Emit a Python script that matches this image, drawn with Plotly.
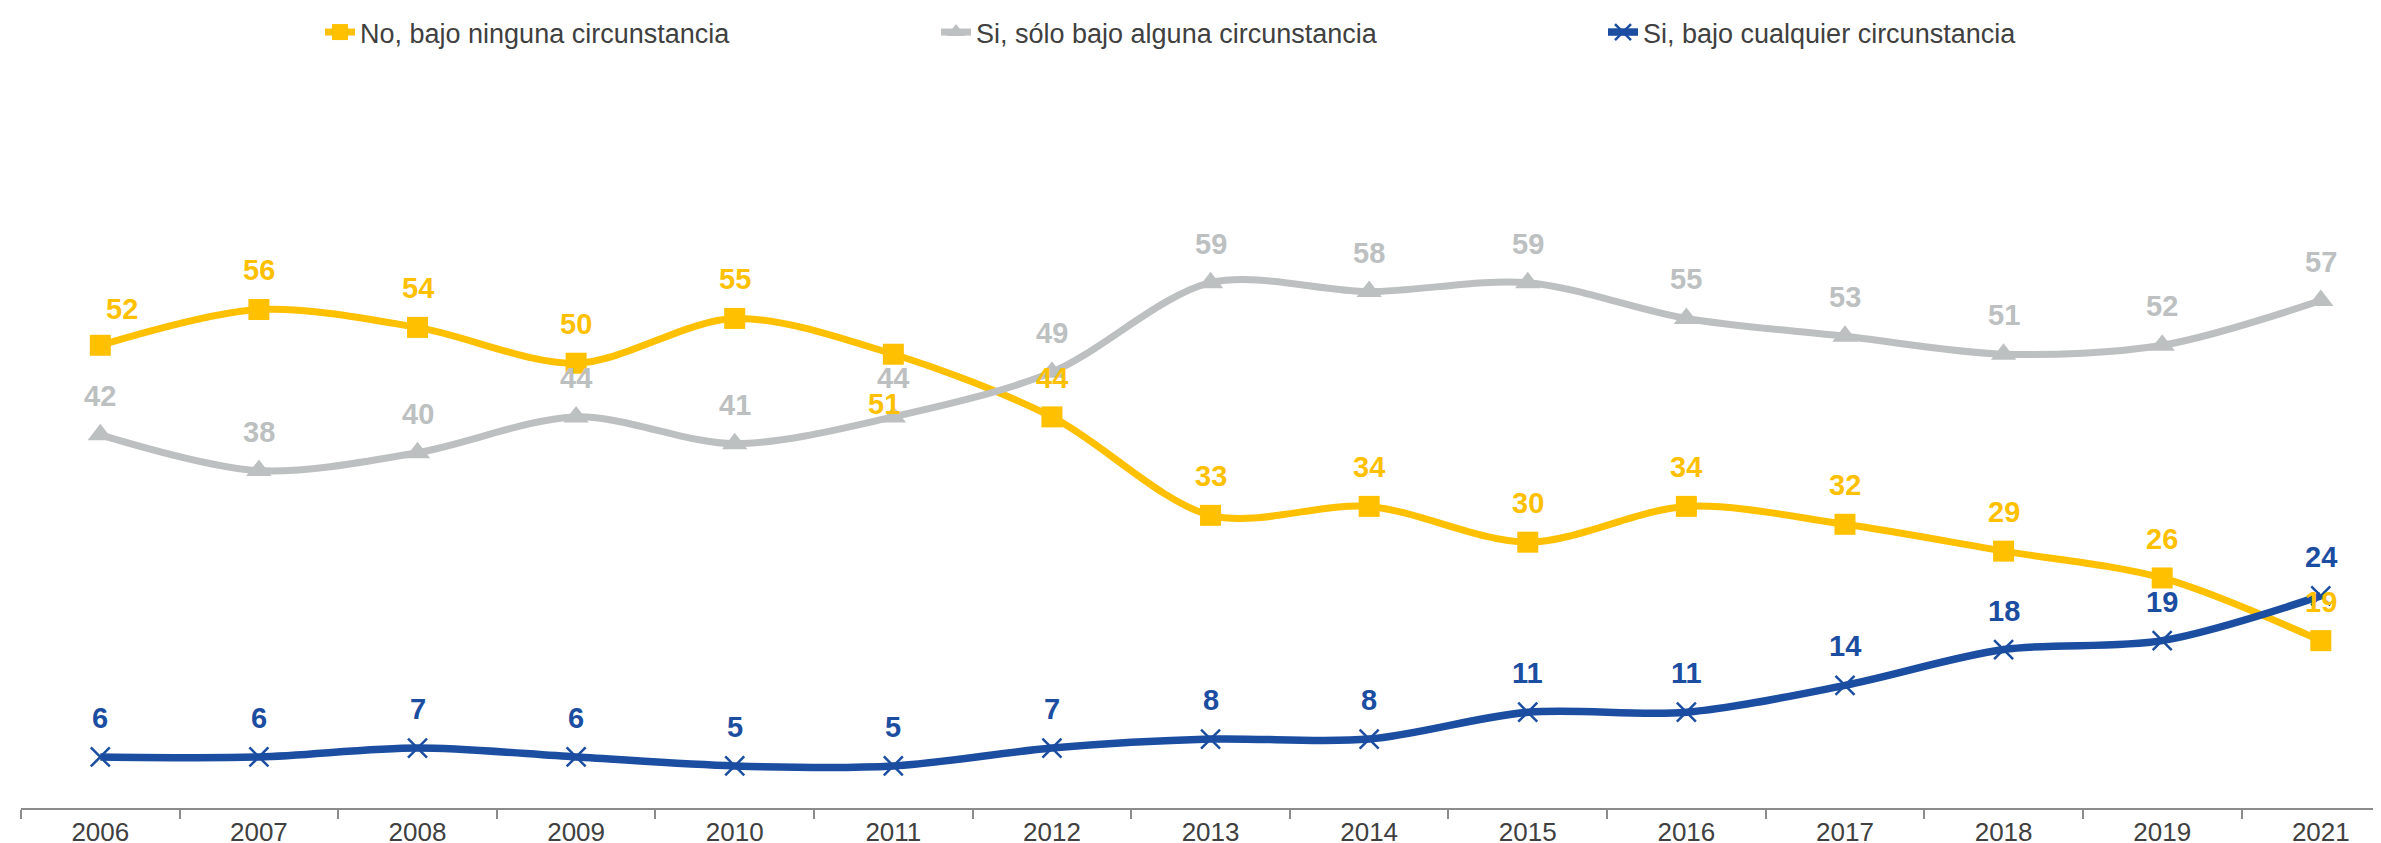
import plotly.graph_objects as go

years = ["2006", "2007", "2008", "2009", "2010", "2011", "2012", "2013",
         "2014", "2015", "2016", "2017", "2018", "2019", "2021"]
no_ninguna = [52, 56, 54, 50, 55, 51, 44, 33, 34, 30, 34, 32, 29, 26, 19]
si_alguna = [42, 38, 40, 44, 41, 44, 49, 59, 58, 59, 55, 53, 51, 52, 57]
si_cualquier = [6, 6, 7, 6, 5, 5, 7, 8, 8, 11, 11, 14, 18, 19, 24]

names = ["No, bajo ninguna circunstancia",
         "Si, sólo bajo alguna circunstancia",
         "Si, bajo cualquier circunstancia"]

YELLOW = "#FFC000"
GREY = "#BCC0C0"
BLUE = "#1B4DA1"
FONT = "Liberation Sans, Arial, sans-serif"

series = [
    dict(y=no_ninguna, name=names[0], color=YELLOW,
         marker=dict(symbol="square", size=21, color=YELLOW), lw=7, legend="legend"),
    dict(y=si_alguna, name=names[1], color=GREY,
         marker=dict(symbol="triangle-up", size=22, color=GREY), lw=7, legend="legend2"),
    dict(y=si_cualquier, name=names[2], color=BLUE,
         marker=dict(symbol="x-thin", size=19, color=BLUE,
                     line=dict(color=BLUE, width=2.5)), lw=7.5, legend="legend3"),
]

fig = go.Figure()
for s in series:
    fig.add_trace(go.Scatter(
        x=years, y=s["y"], name=s["name"], mode="lines+markers",
        line=dict(color=s["color"], width=s["lw"], shape="spline", smoothing=0.9),
        marker=s["marker"], legend=s["legend"], cliponaxis=False,
    ))

# label offsets (style only): default above the point
special = {(0, 0): (22, 36), (0, 5): (-9, -50)}
annotations = []
for si, s in enumerate(series):
    for i, (yr, v) in enumerate(zip(years, s["y"])):
        xs, ys = special.get((si, i), (0, 39))
        annotations.append(dict(
            x=i, y=v, xref="x", yref="y", text="<b>%d</b>" % v, showarrow=False,
            xanchor="center", yanchor="middle", xshift=xs, yshift=ys,
            font=dict(family=FONT, size=29, color=s["color"]),
        ))

W, H = 2381, 843
L, R, T, B = 13, 0, 80, 43
PW, PH = W - L - R, H - T - B


def lx(px):
    return (px - L) / PW


LEG_Y = 1 + (T - 20) / PH
legend_common = dict(orientation="h", yanchor="middle", xanchor="left",
                     font=dict(family=FONT, size=27, color="#404040"),
                     bgcolor="rgba(0,0,0,0)", borderwidth=0)
fig.update_layout(
    width=W, height=H,
    margin=dict(l=L, r=R, t=T, b=B),
    plot_bgcolor="white", paper_bgcolor="white",
    font=dict(family=FONT, color="#404040"),
    showlegend=True,
    annotations=annotations,
    legend=dict(x=lx(352 - 40), y=LEG_Y, **legend_common),
    legend2=dict(x=lx(968 - 40), y=LEG_Y, **legend_common),
    legend3=dict(x=lx(1635 - 40), y=LEG_Y, **legend_common),
    xaxis=dict(
        type="category", range=[-0.5, 14.43],
        showline=True, linecolor="#8C8C8C", linewidth=2,
        ticks="outside", tickson="boundaries", ticklen=9, tickwidth=2,
        tickcolor="#8C8C8C", showgrid=False, zeroline=False,
        tickfont=dict(family=FONT, size=26, color="#404040"),
    ),
    yaxis=dict(range=[0.3, 80.3], showticklabels=False, showline=False,
               showgrid=False, zeroline=False, ticks=""),
)

fig.write_html("out.html")
